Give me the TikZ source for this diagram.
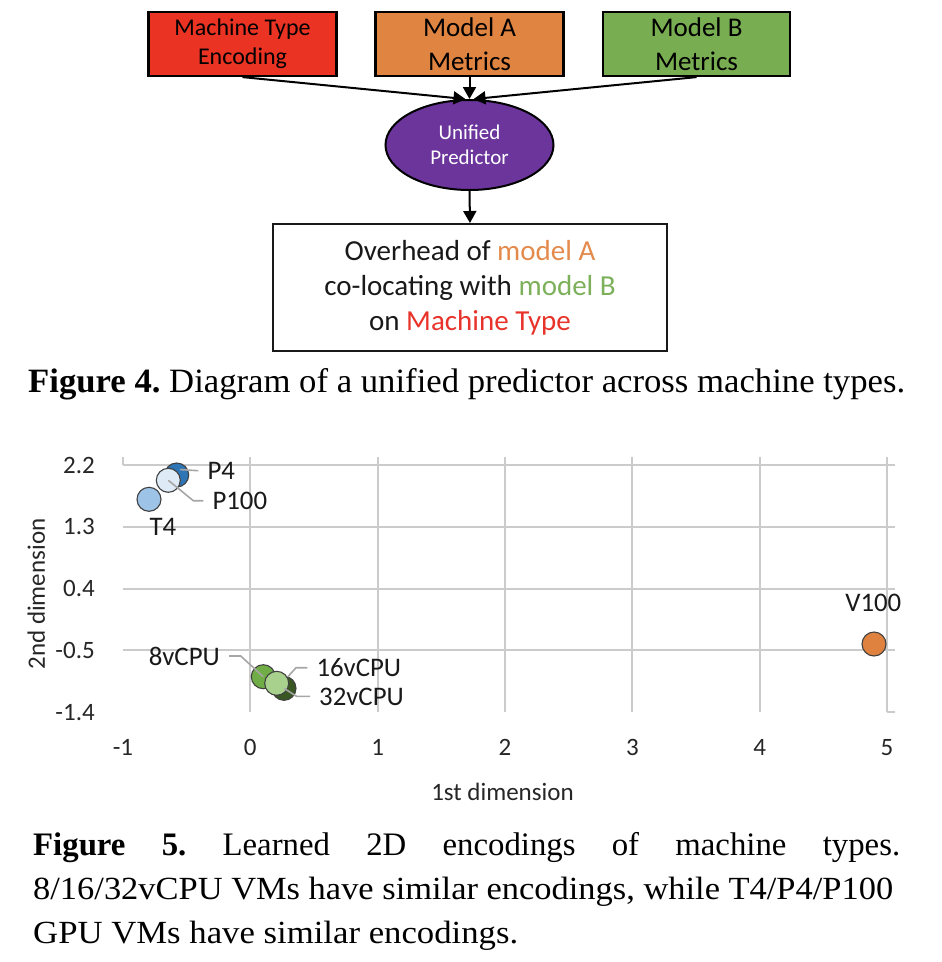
\documentclass[tikz,border=0pt]{standalone}
\usepackage{fontspec}
\usepackage{graphicx}
\setmainfont{Liberation Serif}
\newfontfamily\calf{Carlito}
\usetikzlibrary{shapes.geometric,arrows.meta,calc}
\frenchspacing
\definecolor{boxred}{HTML}{EA3323}
\definecolor{boxorange}{HTML}{E08442}
\definecolor{boxgreen}{HTML}{78AD51}
\definecolor{predpurple}{HTML}{6C359C}
\definecolor{txtorange}{HTML}{E38A4C}
\definecolor{txtgreen}{HTML}{7DB05A}
\definecolor{txtred}{HTML}{E8332A}
\definecolor{gridgray}{HTML}{CBCBCB}
\definecolor{leadgray}{HTML}{A6A6A6}
\definecolor{ptdark}{HTML}{2E75B6}
\definecolor{ptlight}{HTML}{DEEBF7}
\definecolor{ptmid}{HTML}{9DC3E6}
\definecolor{gmid}{HTML}{70AD47}
\definecolor{glight}{HTML}{A9D18E}
\definecolor{gdark}{HTML}{385723}
\definecolor{ptorange}{HTML}{E0823F}
\begin{document}
\begin{tikzpicture}[x=1pt,y=-1pt,
  inbox/.style={draw=black, line width=2.2pt, minimum width=188pt, minimum height=64pt,
    inner sep=0pt, align=center, text=black},
  arr/.style={line width=2pt, -{Triangle[length=12pt,width=13pt]}},
  dot/.style={circle, draw=black!75, line width=1.1pt, minimum size=24pt, inner sep=0pt},
  lbl/.style={font=\calf\fontsize{26.8}{30}\selectfont, inner xsep=9pt, inner ysep=0pt, text=black!90},
  tick/.style={font=\calf\fontsize{25}{28}\selectfont, inner sep=0pt, text=black!85},
  lead/.style={draw=leadgray, line width=1.6pt},
  grid/.style={draw=gridgray, line width=2pt}
]
\useasboundingbox (0,0) rectangle (942,962);

% ---------------- Figure 4 diagram ----------------
\node[inbox, fill=boxred, font=\calf\fontsize{24}{29}\selectfont] (mte) at (242.5,44) {Machine Type\\Encoding};
\node[inbox, fill=boxorange, font=\calf\fontsize{27}{34}\selectfont] (ma) at (469.5,44) {Model A\\Metrics};
\node[inbox, fill=boxgreen, font=\calf\fontsize{27}{34}\selectfont, minimum width=187pt] (mb) at (696.5,44) {Model B\\Metrics};
\node[ellipse, draw=black, line width=2pt, fill=predpurple, minimum width=168pt, minimum height=90pt,
  inner sep=0pt, align=center, text=white, font=\calf\fontsize{21}{25.5}\selectfont] (pred) at (469.5,145) {Unified\\Predictor};
\node[draw=black!90, line width=2pt, minimum width=394pt, minimum height=127pt, inner sep=0pt, align=center,
  font=\calf\fontsize{29}{35}\selectfont, text=black!90] (out) at (470,287.5)
  {Overhead of \textcolor{txtorange}{model A}\\co-locating with \textcolor{txtgreen}{model B}\\on \textcolor{txtred}{Machine Type}};
\draw[arr] (mte.south) -- (pred.95);
\draw[arr] (ma.south) -- (pred.north);
\draw[arr] (mb.south) -- (pred.85);
\draw[arr] (pred.south) -- (out.north);

\node[anchor=base west, inner sep=0pt, font=\fontsize{33}{40}\selectfont] (cap4) at (28,392)
  {\resizebox{877pt}{24pt}{\textbf{Figure 4.} Diagram of a unified predictor across machine types.}};

% ---------------- Figure 5 chart ----------------
\foreach \yy in {465,526.75,588.5,650.25} {\draw[grid] (123,\yy) -- (895,\yy);}
\foreach \xx in {250.33,377.67,505,632.33,759.67,887} {\draw[grid] (\xx,457) -- (\xx,712);}
\draw[grid] (123,457) -- (123,465);
\draw[grid] (887,712) -- (895,712);

\foreach \yy/\t in {465/2.2,526.75/1.3,588.5/0.4,650.25/-0.5,712/-1.4}
  {\node[tick, anchor=base east] at (95,\yy+8) {\t};}
\foreach \xx/\t in {123/-1,250.33/0,377.67/1,505/2,632.33/3,759.67/4,887/5}
  {\node[tick, anchor=base] at (\xx,755) {\t};}
\node[tick, anchor=base] (xt) at (502.5,800) {1st dimension};
\node[tick, anchor=base, rotate=90] (yt) at (45,594) {2nd dimension};

% data points
\node[dot, fill=ptmid] (t4) at (149,499.3) {};
\node[dot, fill=ptdark] (p4) at (176.7,475) {};
\node[dot, fill=ptlight] (p100) at (168.3,480.3) {};
\node[dot, fill=ptorange] (v100) at (874,644) {};
\node[dot, fill=gmid] (c8) at (263.3,676.7) {};
\node[dot, fill=gdark] (c32) at (284,688.3) {};
\node[dot, fill=glight] (c16) at (276.7,683.3) {};

% labels
\node[lbl, anchor=base west, inner xsep=0pt] (lt4) at (149.3,535) {T4};
\node[lbl, anchor=base west] (lp4) at (198.3,479.3) {P4};
\node[lbl, anchor=base west] (lp100) at (203.3,509.3) {P100};
\node[lbl, anchor=base east] (l8) at (229,665) {8vCPU};
\node[lbl, anchor=base west] (l16) at (307.3,676.7) {16vCPU};
\node[lbl, anchor=base west] (l32) at (310,705) {32vCPU};
\node[lbl, anchor=base, inner xsep=0pt] (lv100) at (873.3,611.7) {V100};

% leader lines
\draw[lead] ($(p4.center)!0.5!(p4.60)$) -- (lp4.west);
\draw[lead] (p100.center) -- ($(lp100.west)+(-10,0)$) -- (lp100.west);
\draw[lead] (l8.east) -- ++(11.7,0) -- (c8.center);
\draw[lead] (c16.30) -- ($(l16.west)+(-11.3,0)$) -- (l16.west);
\draw[lead] (c32.center) -- ($(l32.west)+(-13.3,0)$) -- (l32.west);

% caption 5
\node[anchor=base west, inner sep=0pt, font=\fontsize{32.8}{40}\selectfont] (cap5a) at (33,855)
  {\makebox[867pt][s]{\textbf{Figure} \textbf{5.} Learned 2D encodings of machine types.}};
\node[anchor=base west, inner sep=0pt, font=\fontsize{32.8}{40}\selectfont] (cap5b) at (33,899.5)
  {\resizebox{860pt}{22.4pt}{8/16/32vCPU VMs have similar encodings, while T4/P4/P100}};
\node[anchor=base west, inner sep=0pt, font=\fontsize{32.8}{40}\selectfont] (cap5c) at (33,943)
  {\resizebox{485pt}{22.4pt}{GPU VMs have similar encodings.}};
\end{tikzpicture}
\end{document}
